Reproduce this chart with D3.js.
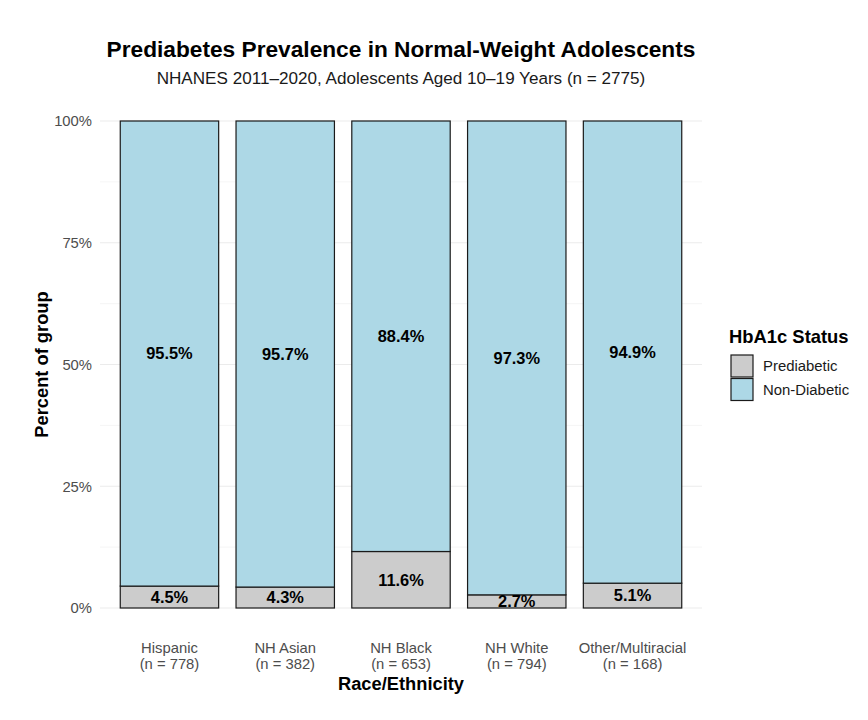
<!DOCTYPE html>
<html><head><meta charset="utf-8">
<script src="https://cdn.jsdelivr.net/npm/d3@7/dist/d3.min.js"></script>
<style>body{margin:0;background:#fff}svg{display:block;font-family:"Liberation Sans",Arial,sans-serif}</style>
</head><body>
<svg id="c" width="868" height="720"></svg>
<script>
const categories = ["Hispanic","NH Asian","NH Black","NH White","Other/Multiracial"];
const groupN = [778, 382, 653, 794, 168];
const prediabetic = [4.5, 4.3, 11.6, 2.7, 5.1];
const nonDiabetic = [95.5, 95.7, 88.4, 97.3, 94.9];
const yTicks = [0, 25, 50, 75, 100];
const yMinor = [12.5, 37.5, 62.5, 87.5];
const statusLabels = ["Prediabetic","Non-Diabetic"];
const statusColors = ["#cccccc","#add8e6"];

const svg = d3.select("#c");
const panel = {left:100, right:702, top:96.6, bottom:632.4};
const nC = categories.length;
const step = (panel.right-panel.left)/(nC-1+1.2);
const x = d3.scaleBand().domain(categories)
  .range([panel.left+0.6*step-step/2, panel.right-0.6*step+step/2]).paddingInner(0.15).paddingOuter(0.075);
const y = d3.scaleLinear().domain([0,100]).range([608,121]);

// gridlines
const g = svg.append("g");
g.selectAll(".minor").data(yMinor).join("line")
  .attr("x1",panel.left).attr("x2",panel.right)
  .attr("y1",d=>y(d)).attr("y2",d=>y(d))
  .attr("stroke","#f3f3f3").attr("stroke-width",0.8);
g.selectAll(".major").data(yTicks).join("line")
  .attr("x1",panel.left).attr("x2",panel.right)
  .attr("y1",d=>y(d)).attr("y2",d=>y(d))
  .attr("stroke","#ebebeb").attr("stroke-width",1.2);

// y axis labels
const yAxis = d3.axisLeft(y).tickValues(yTicks).tickFormat(d=>d+"%").tickSize(0).tickPadding(8);
const ya = svg.append("g").attr("transform",`translate(${panel.left},0)`).call(yAxis);
ya.select(".domain").remove();
ya.selectAll("text").attr("fill","#4d4d4d").style("font-size","14.8px").style("font-family","Liberation Sans, Arial, sans-serif");

// bars
const data = categories.map((c,i)=>({c, p:prediabetic[i], n:nonDiabetic[i]}));
const bars = svg.append("g");
bars.selectAll(".pre").data(data).join("rect")
  .attr("x",d=>x(d.c)).attr("width",x.bandwidth())
  .attr("y",d=>y(d.p)).attr("height",d=>y(0)-y(d.p))
  .attr("fill",statusColors[0]).attr("stroke","#1a1a1a").attr("stroke-width",1.2);
bars.selectAll(".non").data(data).join("rect")
  .attr("x",d=>x(d.c)).attr("width",x.bandwidth())
  .attr("y",d=>y(d.p+d.n)).attr("height",d=>y(d.p)-y(d.p+d.n))
  .attr("fill",statusColors[1]).attr("stroke","#1a1a1a").attr("stroke-width",1.2);

// value labels
const lab = svg.append("g").attr("text-anchor","middle").style("font-weight","bold").style("font-size","16.4px").attr("fill","#000");
lab.selectAll(".lp").data(data).join("text")
  .attr("x",d=>x(d.c)+x.bandwidth()/2).attr("y",d=>y(d.p/2)).attr("dy","0.36em")
  .text(d=>d.p.toFixed(1)+"%");
lab.selectAll(".ln").data(data).join("text")
  .attr("x",d=>x(d.c)+x.bandwidth()/2).attr("y",d=>y(d.p+d.n/2)).attr("dy","0.36em")
  .text(d=>d.n.toFixed(1)+"%");

// x category labels
const xl = svg.append("g").attr("text-anchor","middle").attr("fill","#4d4d4d").style("font-size","14.8px");
categories.forEach((c,i)=>{
  const t = xl.append("text").attr("x",x(c)+x.bandwidth()/2).attr("y",653);
  t.append("tspan").attr("x",x(c)+x.bandwidth()/2).text(c);
  t.append("tspan").attr("x",x(c)+x.bandwidth()/2).attr("dy",16).text(`(n = ${groupN[i]})`);
});

// axis titles
svg.append("text").attr("x",(panel.left+panel.right)/2).attr("y",690).attr("text-anchor","middle")
  .style("font-weight","bold").style("font-size","18.3px").text("Race/Ethnicity");
svg.append("text").attr("transform",`translate(48,${(panel.top+panel.bottom)/2}) rotate(-90)`).attr("text-anchor","middle")
  .style("font-weight","bold").style("font-size","18.3px").text("Percent of group");

// titles
svg.append("text").attr("x",(panel.left+panel.right)/2).attr("y",57).attr("text-anchor","middle")
  .style("font-weight","bold").style("font-size","22.7px").text("Prediabetes Prevalence in Normal-Weight Adolescents");
svg.append("text").attr("x",(panel.left+panel.right)/2).attr("y",84).attr("text-anchor","middle")
  .style("font-size","17.1px").attr("fill","#1a1a1a").text("NHANES 2011–2020, Adolescents Aged 10–19 Years (n = 2775)");

// legend
const lg = svg.append("g");
lg.append("text").attr("x",729).attr("y",343).style("font-weight","bold").style("font-size","18.4px").text("HbA1c Status");
statusLabels.forEach((s,i)=>{
  lg.append("rect").attr("x",731).attr("y",355+i*23.5).attr("width",22).attr("height",22)
    .attr("fill",statusColors[i]).attr("stroke","#1a1a1a").attr("stroke-width",1.2);
  lg.append("text").attr("x",763).attr("y",366+i*23.5).attr("dy","0.36em").style("font-size","14.9px").attr("fill","#1a1a1a").text(s);
});
</script>
</body></html>
